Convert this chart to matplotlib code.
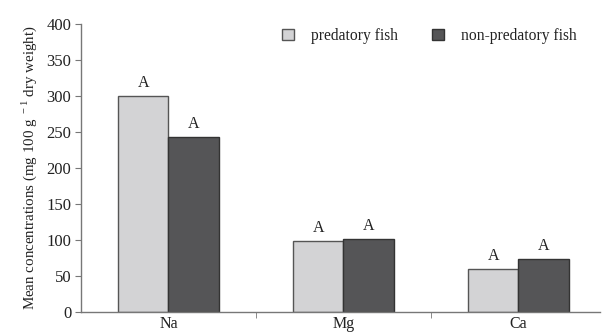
import numpy as np
import matplotlib
matplotlib.use("Agg")
import matplotlib.pyplot as plt

plt.rcParams['font.family'] = ['Liberation Serif', 'DejaVu Serif']
plt.rcParams['mathtext.fontset'] = 'custom'
plt.rcParams['mathtext.rm'] = 'Liberation Serif'

elements = ['Na', 'Mg', 'Ca']
predatory = [300, 98, 60]
non_predatory = [243, 101, 74]
letters_pred = ['A', 'A', 'A']
letters_nonpred = ['A', 'A', 'A']
series_names = ['predatory fish', 'non-predatory fish']

text_col = '#222222'
axis_col = '#777777'

fig = plt.figure(figsize=(6.02, 3.36), dpi=100)
ax = fig.add_axes([81 / 602, 24 / 336, 519 / 602, 288 / 336])

x = np.arange(len(elements))
w = 0.286
ax.bar(x - w / 2, predatory, w, color='#d3d3d5', edgecolor='#555555',
       linewidth=1.0, label=series_names[0])
ax.bar(x + w / 2, non_predatory, w, color='#555557', edgecolor='#333333',
       linewidth=1.0, label=series_names[1])

for xi, v, t in zip(x - w / 2, predatory, letters_pred):
    ax.text(xi, v + 7, t, ha='center', va='bottom', fontsize=11.5, color=text_col)
for xi, v, t in zip(x + w / 2, non_predatory, letters_nonpred):
    ax.text(xi, v + 7, t, ha='center', va='bottom', fontsize=11.5, color=text_col)

ax.set_xlim(-0.5, 2.466)
ax.set_ylim(0, 400)
ax.set_yticks(np.arange(0, 401, 50))
ax.set_xticks(x)
ax.set_xticklabels(elements)
ax.set_xticks([0.5, 1.5], minor=True)
ax.tick_params(axis='x', which='major', length=0, pad=3, labelsize=11.5,
               labelcolor=text_col)
ax.tick_params(axis='x', which='minor', length=4, color=axis_col, direction='out')
ax.tick_params(axis='y', length=4, color=axis_col, direction='out', pad=3,
               labelsize=12, labelcolor=text_col)

for s in ['top', 'right']:
    ax.spines[s].set_visible(False)
for s in ['left', 'bottom']:
    ax.spines[s].set_color(axis_col)
    ax.spines[s].set_linewidth(1.0)

ax.set_ylabel(r'Mean concentrations (mg 100 g$^{\rm\ -1}$ dry weight)',
              fontsize=10.8, color=text_col, labelpad=5)

leg = ax.legend(loc='center left', bbox_to_anchor=(201 / 519, 1 - 12 / 288),
                ncol=2, frameon=False, fontsize=11.2, handlelength=0.75,
                handleheight=0.75, handletextpad=1.1, columnspacing=2.2,
                borderaxespad=0, borderpad=0)
for t in leg.get_texts():
    t.set_color(text_col)

fig.savefig('out.png', dpi=100)
plt.close(fig)
